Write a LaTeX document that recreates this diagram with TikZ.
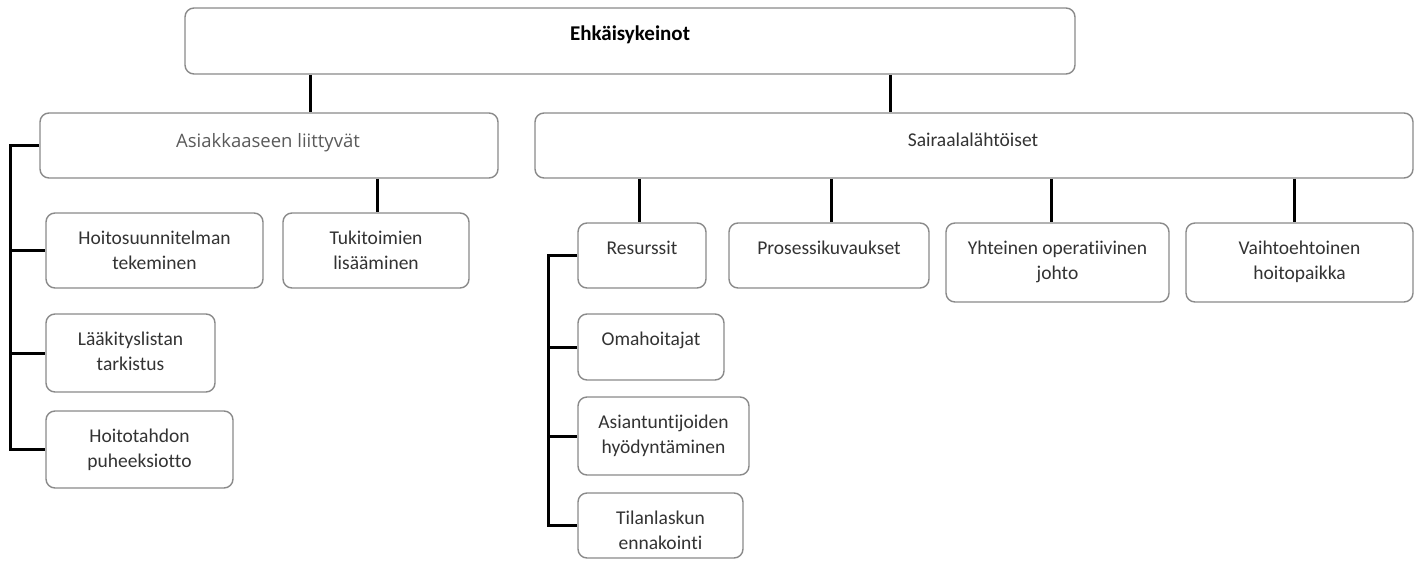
\documentclass[tikz,border=0pt]{standalone}
\usepackage{fontspec}
\setmainfont{Carlito}[Ligatures=NoCommon]
\newfontfamily\osans{Open Sans}
\usetikzlibrary{backgrounds}
\definecolor{boxgray}{HTML}{8A8A8A}
\definecolor{txt}{HTML}{333333}
\definecolor{lighttxt}{HTML}{5A5A5A}
\begin{document}
\begin{tikzpicture}[x=1pt,y=-1pt,
  box/.style={draw=boxgray, line width=1.4pt, rounded corners=9pt, fill=white, inner sep=0pt},
  lbl/.style={anchor=base, inner sep=0pt, text=txt, font=\fontsize{19.5}{24}\selectfont},
  conn/.style={line width=3pt, draw=black}]
\useasboundingbox (0,0) rectangle (1419,560);
% boxes
\node[box, minimum width=890pt, minimum height=66pt] (top) at (630,41) {};
\node[box, minimum width=458pt, minimum height=65pt] (asia) at (269,145.5) {};
\node[box, minimum width=878pt, minimum height=65pt] (sair) at (974,145.5) {};
\node[box, minimum width=217pt, minimum height=75pt] (hoito) at (154.5,250.5) {};
\node[box, minimum width=186pt, minimum height=75pt] (tuki) at (376,250.5) {};
\node[box, minimum width=169pt, minimum height=78pt] (laak) at (130.5,353) {};
\node[box, minimum width=187pt, minimum height=77pt] (htahto) at (139.5,449.5) {};
\node[box, minimum width=128pt, minimum height=65pt] (resu) at (642,255.5) {};
\node[box, minimum width=200pt, minimum height=65pt] (pros) at (829,255.5) {};
\node[box, minimum width=223pt, minimum height=79pt] (yht) at (1057.5,262.5) {};
\node[box, minimum width=227pt, minimum height=79pt] (vaiht) at (1299.5,262.5) {};
\node[box, minimum width=146pt, minimum height=66pt] (oma) at (651,347) {};
\node[box, minimum width=171pt, minimum height=78pt] (asian) at (663.5,436) {};
\node[box, minimum width=165pt, minimum height=65pt] (tilan) at (660.5,525.5) {};
% texts
\node[lbl, text=black, font=\bfseries\fontsize{21}{25}\selectfont] (top-t) at (630,40.7) {Ehkäisykeinot};
\node[lbl, text=lighttxt, font=\osans\fontsize{18.5}{22}\selectfont] (asia-t) at (268,147.7) {Asiakkaaseen liittyvät};
\node[lbl] (sair-t) at (973,146) {Sairaalalähtöiset};
\node[lbl] (hoito-1) at (154.5,244) {Hoitosuunnitelman};
\node[lbl] (hoito-2) at (154.5,269) {tekeminen};
\node[lbl] (tuki-1) at (376,244) {Tukitoimien};
\node[lbl] (tuki-2) at (376,269) {lisääminen};
\node[lbl] (laak-1) at (130.5,345) {Lääkityslistan};
\node[lbl] (laak-2) at (130.5,370) {tarkistus};
\node[lbl] (htahto-1) at (139.5,442) {Hoitotahdon};
\node[lbl] (htahto-2) at (139.5,467) {puheeksiotto};
\node[lbl] (resu-t) at (642,254) {Resurssit};
\node[lbl] (pros-t) at (829,254) {Prosessikuvaukset};
\node[lbl] (yht-1) at (1057.5,254) {Yhteinen operatiivinen};
\node[lbl] (yht-2) at (1057.5,279) {johto};
\node[lbl] (vaiht-1) at (1299.5,254) {Vaihtoehtoinen};
\node[lbl] (vaiht-2) at (1299.5,279) {hoitopaikka};
\node[lbl] (oma-t) at (651,345) {Omahoitajat};
\node[lbl] (asian-1) at (663.5,428) {Asiantuntijoiden};
\node[lbl] (asian-2) at (663.5,453) {hyödyntäminen};
\node[lbl] (tilan-1) at (660.5,524) {Tilanlaskun};
\node[lbl] (tilan-2) at (660.5,549) {ennakointi};
% connector guide coordinates
\coordinate (ca) at (310,0);
\coordinate (cs) at (890,0);
\coordinate (ct) at (377,0);
\coordinate (la) at (10,0);
\coordinate (lr) at (548,0);
\coordinate (s1) at (639,0);
\coordinate (s2) at (831,0);
\coordinate (s3) at (1051,0);
\coordinate (s4) at (1294,0);
\begin{scope}[on background layer]
\draw[conn] (top.south -| ca) -- (asia.north -| ca);
\draw[conn] (top.south -| cs) -- (sair.north -| cs);
\draw[conn] (asia.south -| ct) -- (tuki.north -| ct);
\draw[conn] (asia.west) -| (la |- htahto.west) -- (htahto.west);
\draw[conn] (la |- hoito.west) -- (hoito.west);
\draw[conn] (la |- laak.west) -- (laak.west);
\draw[conn] (sair.south -| s1) -- (resu.north -| s1);
\draw[conn] (sair.south -| s2) -- (pros.north -| s2);
\draw[conn] (sair.south -| s3) -- (yht.north -| s3);
\draw[conn] (sair.south -| s4) -- (vaiht.north -| s4);
\draw[conn] (resu.west) -| (lr |- tilan.west) -- (tilan.west);
\draw[conn] (lr |- oma.west) -- (oma.west);
\draw[conn] (lr |- asian.west) -- (asian.west);
\end{scope}
\end{tikzpicture}
\end{document}
